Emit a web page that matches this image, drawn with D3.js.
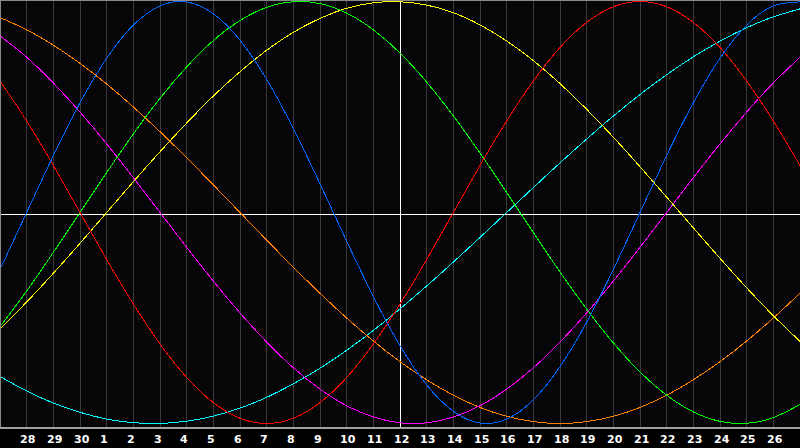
<!DOCTYPE html>
<html>
<head>
<meta charset="utf-8">
<script src="https://cdn.jsdelivr.net/npm/d3@7"></script>
<style>
  html, body { margin: 0; padding: 0; background: #000; }
  svg { display: block; }
</style>
</head>
<body>
<svg id="chart" width="800" height="448"></svg>
<script>
// Day-of-month labels at each grid position (index 0 = left edge, 30 = right edge)
const days = [27,28,29,30,1,2,3,4,5,6,7,8,9,10,11,12,13,14,15,16,17,18,19,20,21,22,23,24,25,26,27];
const todayIndex = 15; // day 12

// Cycle values (-1..1) read per day from the chart
const physical = [-0.270,0,0.270,0.520,0.731,0.888,0.979,0.998,0.942,0.817,0.631,0.398,0.136,-0.136,-0.398,-0.631,-0.817,-0.942,-0.998,-0.979,-0.888,-0.731,-0.520,-0.270,0,0.270,0.520,0.731,0.888,0.979,0.998];
const emotional = [0.623,0.434,0.223,0,-0.223,-0.434,-0.623,-0.782,-0.901,-0.975,-1,-0.975,-0.901,-0.782,-0.623,-0.434,-0.223,0,0.223,0.434,0.623,0.782,0.901,0.975,1,0.975,0.901,0.782,0.623,0.434,0.223];
const intellectual = [-0.541,-0.372,-0.189,0,0.189,0.372,0.541,0.690,0.815,0.910,0.972,0.999,0.990,0.945,0.866,0.756,0.618,0.458,0.282,0.095,-0.095,-0.282,-0.458,-0.618,-0.756,-0.866,-0.945,-0.990,-0.999,-0.972,-0.910];
const intuitive = [0.837,0.736,0.614,0.476,0.325,0.165,0,-0.165,-0.325,-0.476,-0.614,-0.736,-0.837,-0.916,-0.969,-0.997,-0.997,-0.969,-0.916,-0.837,-0.736,-0.614,-0.476,-0.325,-0.165,0,0.165,0.325,0.476,0.614,0.736];
const aesthetic = [-0.552,-0.424,-0.288,-0.146,0,0.146,0.288,0.424,0.552,0.667,0.769,0.854,0.920,0.968,0.994,0.999,0.983,0.947,0.889,0.813,0.720,0.611,0.489,0.357,0.217,0.073,-0.073,-0.217,-0.357,-0.489,-0.611];
const awareness = [0.924,0.866,0.793,0.707,0.609,0.5,0.383,0.259,0.131,0,-0.131,-0.259,-0.383,-0.5,-0.609,-0.707,-0.793,-0.866,-0.924,-0.966,-0.991,-1,-0.991,-0.966,-0.924,-0.866,-0.793,-0.707,-0.609,-0.5,-0.383];
const spiritual = [-0.777,-0.846,-0.903,-0.947,-0.979,-0.996,-1.000,-0.989,-0.965,-0.927,-0.876,-0.812,-0.738,-0.653,-0.559,-0.457,-0.348,-0.235,-0.118,0,0.118,0.235,0.348,0.457,0.559,0.653,0.738,0.812,0.876,0.927,0.965];

const seriesNames = ["spiritual","awareness","intuitive","aesthetic","intellectual","emotional","physical"];
const seriesData = [spiritual, awareness, intuitive, aesthetic, intellectual, emotional, physical];
const seriesColors = ["#00ffff","#ff8000","#ff00ff","#ffff00","#00ff00","#ff0000","#0064ff"];

const W = 800;
const svg = d3.select("#chart");

const x = d3.scaleLinear().domain([0, days.length - 1]).range([0, W]);
const y = d3.scaleLinear().domain([-1, 1]).range([423.5, 1.5]);
const plotBottom = 427;

// background
svg.append("rect").attr("x",0).attr("y",0).attr("width",W).attr("height",448).attr("fill","#000000");
svg.append("rect").attr("x",0).attr("y",0).attr("width",W).attr("height",plotBottom).attr("fill","#060609");

// vertical grid
const idx = d3.range(1, days.length - 1);
svg.append("g").selectAll("line").data(idx).join("line")
  .attr("x1", d => Math.floor(x(d)) + 0.5).attr("x2", d => Math.floor(x(d)) + 0.5)
  .attr("y1", 0).attr("y2", plotBottom)
  .attr("stroke", d => d === todayIndex ? "#ffffff" : "#3a3a3a")
  .attr("stroke-width", 1).attr("shape-rendering","crispEdges");

// horizontal zero line
svg.append("line").attr("x1",0).attr("x2",W).attr("y1",214.5).attr("y2",214.5)
  .attr("stroke","#ffffff").attr("stroke-width",1).attr("shape-rendering","crispEdges");

// curves
const line = d3.line().x((d,i) => x(i)).y(d => y(d)).curve(d3.curveNatural);
svg.append("g").selectAll("path").data(seriesData).join("path")
  .attr("d", d => line(d))
  .attr("fill","none")
  .attr("stroke", (d,i) => seriesColors[i])
  .attr("stroke-width", 1)
  .attr("shape-rendering","crispEdges");

// borders
svg.append("line").attr("x1",0).attr("x2",W).attr("y1",0.5).attr("y2",0.5)
  .attr("stroke","#8a8a8a").attr("shape-rendering","crispEdges");
svg.append("line").attr("x1",0.5).attr("x2",0.5).attr("y1",0).attr("y2",plotBottom + 1)
  .attr("stroke","#8a8a8a").attr("shape-rendering","crispEdges");
svg.append("rect").attr("x",0).attr("y",plotBottom).attr("width",W).attr("height",2)
  .attr("fill","#a0a0a0").attr("shape-rendering","crispEdges");

// day labels
svg.append("g").selectAll("text").data(idx).join("text")
  .attr("x", d => Math.floor(x(d)) - 6)
  .attr("y", 443)
  .attr("fill", "#ffffff")
  .attr("font-family", "'DejaVu Sans', sans-serif")
  .attr("font-weight", "bold")
  .attr("font-size", "11px")
  .text(d => days[d]);
</script>
</body>
</html>
